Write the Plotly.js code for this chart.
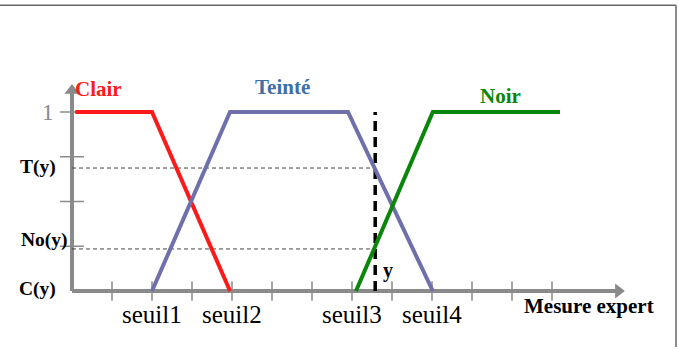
<!DOCTYPE html>
<html>
<head>
<meta charset="utf-8">
<script src="https://cdn.plot.ly/plotly-3.0.1.min.js"></script>
<style>html,body{margin:0;padding:0;background:#fff;}#chart{width:679px;height:358px;}</style>
</head>
<body>
<div id="chart"></div>
<script>
// ---- data ----
const clairX = [0.08, 2, 3.95];
const clairY = [1, 1, 0];
const teinteX = [2, 3.95, 6.9, 9.02];
const teinteY = [0, 1, 1, 0];
const noirX = [7.1, 9.02, 12.2];
const noirY = [0, 1, 1];
const seriesNames = ["Clair", "Teinté", "Noir"];
const seriesLabelX = [0.66, 5.25, 10.7];
const seriesLabelY = [1.13, 1.14, 1.09];
const xTickVals = [1,2,3,4,5,6,7,8,9,10,11,12];
const yTickVals = [0.25, 0.5, 0.75, 1];
const xLabelVals = [2, 4, 7, 9];
const xLabelText = ["seuil1", "seuil2", "seuil3", "seuil4"];
const yLabelVals = [1, 0.69, 0.285, 0.01];
const yLabelText = ["1", "T(y)", "No(y)", "C(y)"];
const yMeasure = 7.58;          // position of the expert measure y
const tValue = 0.687;           // T(y)
const noValue = 0.235;          // No(y)
const axisX = [0, 13.66];
const axisYTop = 1.15;
const xAxisTitle = "Mesure expert";

// ---- styles ----
const gray = "#8a8a8a";
const serif = "Liberation Serif, Times New Roman, serif";

const traces = [];
// axes
traces.push({x:[axisX[0], axisX[1]], y:[0,0], mode:"lines", line:{color:gray, width:4}, hoverinfo:"skip"});
traces.push({x:[0,0], y:[0, axisYTop-0.02], mode:"lines", line:{color:gray, width:4}, hoverinfo:"skip"});
traces.push({x:[axisX[1]], y:[0], mode:"markers", marker:{symbol:"triangle-right", size:13, color:gray}, hoverinfo:"skip"});
traces.push({x:[0], y:[axisYTop - 0.03], mode:"markers", marker:{symbol:"triangle-up", size:13, color:gray}, hoverinfo:"skip"});
// ticks
traces.push({x:xTickVals, y:xTickVals.map(()=>0), mode:"markers", marker:{symbol:"line-ns", size:14, line:{color:gray, width:1.5}}, hoverinfo:"skip"});
traces.push({x:yTickVals.map(()=>0), y:yTickVals, mode:"markers", marker:{symbol:"line-ew", size:17, line:{color:gray, width:1.5}}, hoverinfo:"skip"});
// reference dashed lines
traces.push({x:[0, yMeasure], y:[tValue, tValue], mode:"lines", line:{color:"#444", width:1, dash:"4px,3px"}, hoverinfo:"skip"});
traces.push({x:[0, yMeasure], y:[noValue, noValue], mode:"lines", line:{color:"#444", width:1, dash:"4px,3px"}, hoverinfo:"skip"});
traces.push({x:[yMeasure, yMeasure], y:[0, 1], mode:"lines", line:{color:"#000", width:3.5, dash:"10px,6px"}, hoverinfo:"skip"});
// membership functions
traces.push({x:clairX, y:clairY, mode:"lines", line:{color:"#ff1a1a", width:4}, name:seriesNames[0]});
traces.push({x:teinteX, y:teinteY, mode:"lines", line:{color:"#6f6fab", width:4}, name:seriesNames[1]});
traces.push({x:noirX, y:noirY, mode:"lines", line:{color:"#0a870a", width:4}, name:seriesNames[2]});

const annotations = [];
const labelColors = ["#ff1a1a", "#3f6ea8", "#0a870a"];
seriesNames.forEach((t,i)=>annotations.push({x:seriesLabelX[i], y:seriesLabelY[i], text:"<b>"+t+"</b>", showarrow:false, xanchor:"center", yanchor:"middle", font:{family:serif, size:21, color:labelColors[i]}}));
xLabelVals.forEach((v,i)=>annotations.push({x:v, y:-0.13, text:xLabelText[i], showarrow:false, xanchor:"center", yanchor:"middle", font:{family:serif, size:25, color:"#000"}}));
yLabelVals.forEach((v,i)=>{
  if (i===0) annotations.push({x:-0.6, y:v, text:yLabelText[i], showarrow:false, xanchor:"center", yanchor:"middle", font:{family:serif, size:23, color:"#888"}});
  else annotations.push({x:(i===2? -0.05 : -0.35), y:v, text:"<b>"+yLabelText[i]+"</b>", showarrow:false, xanchor:"right", yanchor:"middle", font:{family:serif, size:19.5, color:"#000"}});
});
annotations.push({x:12.925, y:-0.085, text:"<b>"+xAxisTitle+"</b>", showarrow:false, xanchor:"center", yanchor:"middle", font:{family:serif, size:21, color:"#000"}});
annotations.push({x:7.9, y:0.117, text:"<b>y</b>", showarrow:false, xanchor:"center", yanchor:"middle", font:{family:serif, size:20, color:"#000"}});

const layout = {
  width:679, height:358, autosize:false,
  margin:{l:0, r:0, t:0, b:0},
  paper_bgcolor:"#fff", plot_bgcolor:"#fff",
  showlegend:false,
  xaxis:{range:[-1.8, 15.175], visible:false, fixedrange:true},
  yaxis:{range:[-0.3743, 1.6257], visible:false, fixedrange:true},
  annotations:annotations,
  shapes:[
    {type:"line", xref:"paper", yref:"paper", x0:0, x1:0.9956, y0:0.985, y1:0.985, line:{color:"#666", width:1.5}},
    {type:"line", xref:"paper", yref:"paper", x0:0.9956, x1:0.9956, y0:0.985, y1:0.031, line:{color:"#666", width:1.5}}
  ]
};
Plotly.newPlot("chart", traces, layout, {staticPlot:true, displayModeBar:false});
</script>
</body>
</html>
